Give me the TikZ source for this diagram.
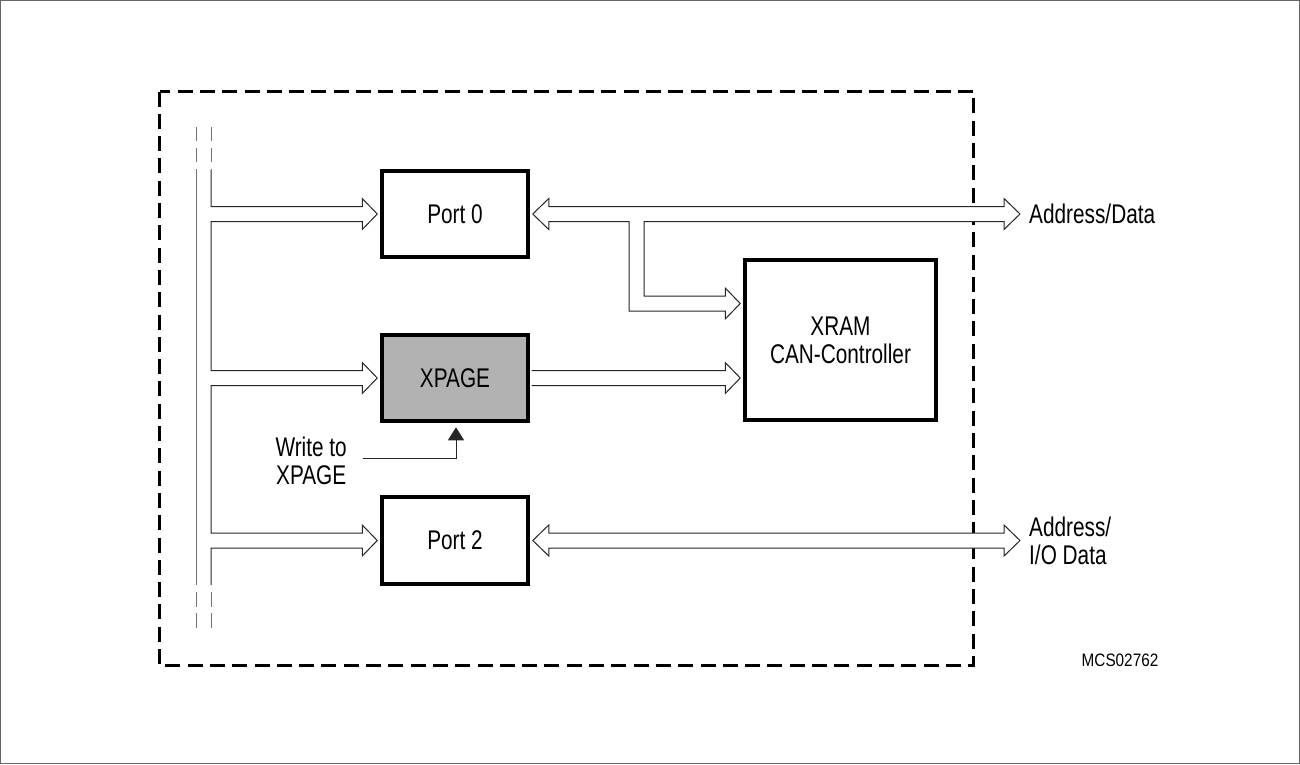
\documentclass[tikz,border=0pt]{standalone}
\usepackage{fontspec}
\setmainfont{Liberation Sans}[FakeStretch=0.77]
\newfontfamily\tagfont{Liberation Sans}[FakeStretch=0.85]
\usetikzlibrary{arrows.meta,calc}

\tikzset{
  block/.style={draw, line width=3.5pt, minimum width=146pt, minimum height=86pt, inner sep=0pt, align=center},
  bus/.style={line width=1pt, black!85},
  busline/.style={line width=1pt, black!55},
  frame/.style={line width=3pt, dash pattern=on 15pt off 7.3pt},
  lbl/.style={inner sep=3pt, align=left, anchor=west},
}

\begin{document}
\begin{tikzpicture}[x=1pt,y=-1pt,font=\fontsize{27}{28}\selectfont]
\useasboundingbox (0,0) rectangle (1300,764);
\draw[black!60, line width=1pt] (0.5,0.5) rectangle (1299.5,763.5);
\draw[frame] (159.5,91.5) rectangle (973.5,665.5);

% blocks
\node[block] (port0) at (455,214) {Port 0};
\node[block, fill=black!30] (xpage) at (455,378) {XPAGE};
\node[block, minimum height=87pt] (port2) at (455,540.5) {Port 2};
\node[block, minimum width=191pt, minimum height=160pt] (xram) at (840.5,340) {XRAM\\CAN-Controller};

% labels
\node[lbl] (addr) at (1026,214) {Address/Data};
\node[lbl] (addrio) at (1026,540.5) {Address/\\I/O Data};
\node[align=center, inner xsep=16pt, anchor=east] (wr) at (363,461) {Write to\\XPAGE};
\node[font={\tagfont\fontsize{18}{20}\selectfont}] (tag) at (1120,660) {MCS02762};

% bus
\coordinate (bustop) at (211,170);
\coordinate (busbot) at (211,585);
\draw[busline] (196,170) -- (196,585);
\foreach \x in {196,211}{
    \draw[busline, dash pattern=on 14pt off 7pt] (\x,127) -- (\x,170);
    \draw[busline, dash pattern=on 15pt off 6pt] (\x,592) -- (\x,628);
}
\draw[bus] (bustop) foreach \b in {port0,xpage,port2}{
    -- ($(bustop |- \b.west)+(0,-7.5)$) -- ($(\b.west)+(-18,-7.5)$) -- ++(0,-8)
    -- ($(\b.west)+(-3,0)$) -- ++(-15,15.5) -- ++(0,-8)
    -- ($(bustop |- \b.west)+(0,7.5)$)} -- (busbot);

% address/data bus
\coordinate (p0tip) at ($(port0.east)+(3,0)$);
\coordinate (adtip) at ($(addr.west)+(-6,0)$);
\coordinate (xrtip1) at ($(xram.west)+(-3,-36.5)$);
\coordinate (tap) at (636.5,214);
\draw[bus, fill=white] (p0tip) -- ++(16,-15.5) -- ++(0,8) -- ($(adtip)+(-16,-7.5)$) -- ++(0,-8)
    -- (adtip) -- ++(-16,15.5) -- ++(0,-8) -- ($(tap)+(7.5,7.5)$) |- ($(xrtip1)+(-15,-7.5)$)
    -- ++(0,-8) -- (xrtip1) -- ++(-15,15.5) -- ++(0,-8) -| ($(tap)+(-7.5,7.5)$)
    -- ($(p0tip)+(16,7.5)$) -- ++(0,8) -- cycle;

% xpage to xram
\coordinate (xrtip2) at ($(xram.west)+(-3,38)$);
\draw[bus, fill=white] ($(xpage.east)+(1.75,-7.5)$) -- ($(xrtip2)+(-15,-7.5)$) -- ++(0,-8)
    -- (xrtip2) -- ++(-15,15.5) -- ++(0,-8) -- ($(xpage.east)+(1.75,7.5)$);

% port 2 bus
\coordinate (p2tip) at ($(port2.east)+(3,0)$);
\coordinate (iotip) at ($(addrio.west)+(-6,0)$);
\draw[bus, fill=white] (p2tip) -- ++(16,-15.5) -- ++(0,8) -- ($(iotip)+(-16,-7.5)$) -- ++(0,-8)
    -- (iotip) -- ++(-16,15.5) -- ++(0,-8) -- ($(p2tip)+(16,7.5)$) -- ++(0,8) -- cycle;

% write strobe
\draw[bus, -{Triangle[width=16pt,length=13pt]}] ([yshift=3pt]wr.east) -| ($(xpage.south)+(1,4.5)$);
\end{tikzpicture}
\end{document}
